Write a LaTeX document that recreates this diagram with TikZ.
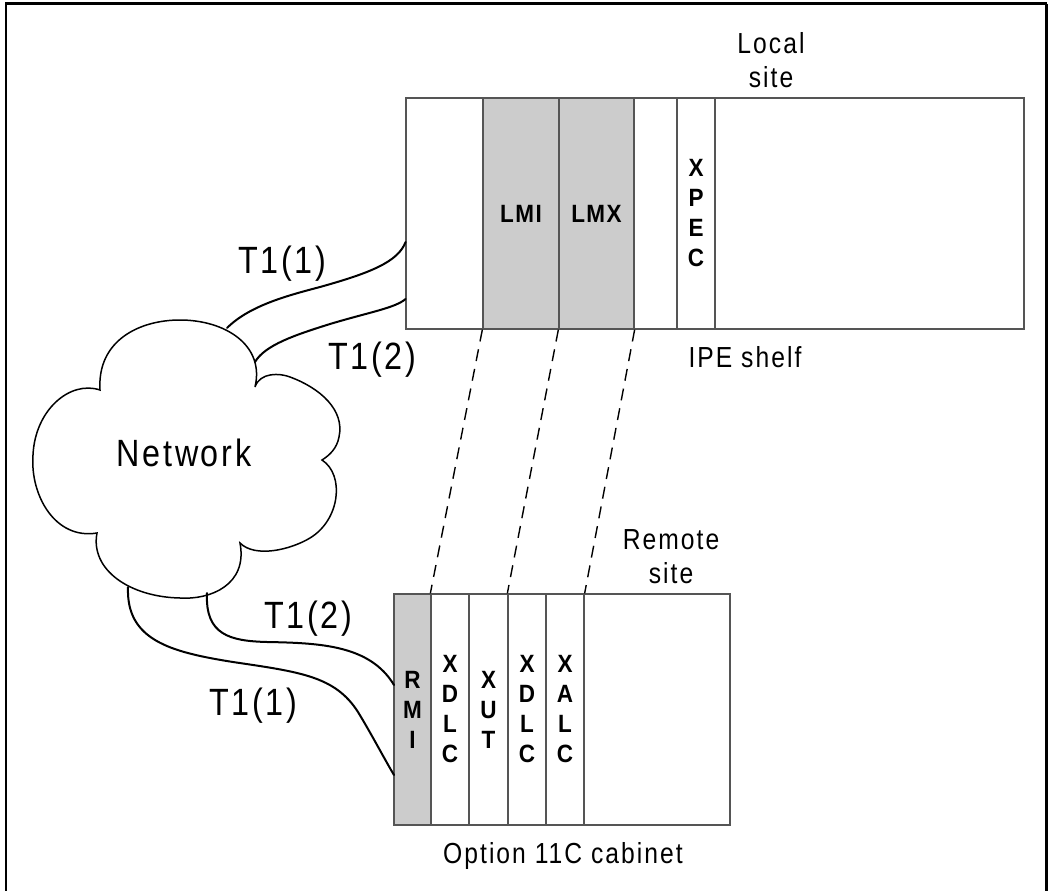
\documentclass[tikz,border=0pt]{standalone}
\usepackage{fontspec}
\setmainfont{Liberation Sans}
\newfontfamily\lab{Liberation Sans}[FakeStretch=0.85,LetterSpace=7]
\newfontfamily\labbold{Liberation Sans Bold}[FakeStretch=0.9,LetterSpace=6]
\definecolor{cardgray}{HTML}{CCCCCC}
\definecolor{edgegray}{HTML}{555555}
\begin{document}
\begin{tikzpicture}[x=1pt,y=-1pt,
  box/.style={draw=edgegray, line width=1.3pt, inner sep=0pt},
  slot/.style={box, font=\labbold\fontsize{25}{30}\selectfont, align=center, minimum height=231pt},
  graycard/.style={slot, fill=cardgray},
  cable/.style={line width=2pt, line cap=round},
  lbl/.style={font=\lab\fontsize{38}{40}\selectfont, inner sep=0pt},
  small/.style={font=\lab\fontsize{29}{34}\selectfont, align=center, inner sep=0pt},
  link/.style={dash pattern=on 12pt off 8pt, line width=1.4pt},
  cloudline/.style={line width=1.5pt}
]
\useasboundingbox (0,0) rectangle (1050,891);
% frame
\draw[line width=1.5pt] (6,891) -- (6,4);
\draw[line width=3pt] (5,4) -- (1047,4);
\draw[line width=3pt] (1046,4) -- (1046,891);

% local shelf
\node[box, minimum width=618pt, minimum height=231pt] (shelf) at (715,213.5) {};
\node[graycard, minimum width=76pt] (lmi) at (521,213.5) {LMI};
\node[graycard, minimum width=75pt] (lmx) at (596.5,213.5) {LMX};
\node[slot, minimum width=38pt] (xpec) at (696,213.5) {X\\P\\E\\C};
\node[small] (local) at (771,60) {Local\\site};
\node[small] (ipe) at (745,357) {IPE shelf};

% remote cabinet
\node[box, minimum width=336pt, minimum height=231pt] (cab) at (562,709.5) {};
\node[graycard, minimum width=37pt] (rmi) at (412.5,709.5) {R\\M\\I};
\node[slot, minimum width=38pt] (xdlca) at (450,709.5) {X\\D\\L\\C};
\node[slot, minimum width=39pt] (xut) at (488.5,709.5) {X\\U\\T};
\node[slot, minimum width=38pt] (xdlcb) at (527,709.5) {X\\D\\L\\C};
\node[slot, minimum width=38pt] (xalc) at (565,709.5) {X\\A\\L\\C};
\node[small] (remote) at (671,557) {Remote\\site};
\node[small] (option) at (563,856) {Option 11C cabinet};

% cloud
\draw[cloudline, fill=white]
  (100,390) .. controls (97,340) and (140,320) .. (180,320)
  .. controls (225,320) and (265,345) .. (255,387)
  .. controls (260,372) and (280,373) .. (290,377)
  .. controls (320,388) and (345,410) .. (339,437)
  .. controls (337,448) and (330,455) .. (322,460)
  .. controls (345,475) and (340,520) .. (310,538)
  .. controls (290,550) and (255,558) .. (240,543)
  .. controls (248,585) and (210,600) .. (180,598)
  .. controls (130,597) and (90,570) .. (97,533)
  .. controls (55,540) and (30,495) .. (33,455)
  .. controls (35,410) and (70,380) .. (100,390) -- cycle;
\node[lbl] (net) at (184,453) {Network};

% cable end points
\coordinate (cA) at (227,328);
\coordinate (cB) at (255,362);
\coordinate (cC) at (128,587);
\coordinate (cD) at (207,593);
\coordinate (sA) at (405.6,242);
\coordinate (sB) at (405.6,299);
\coordinate (rA) at (394,775);
\coordinate (rB) at (394,685);

% cables
\draw[cable] (cA) .. controls (250,305) and (290,295) .. (320,287)
  .. controls (370,273) and (398,262) .. (sA);
\draw[cable] (cB) .. controls (265,345) and (295,335) .. (330,324)
  .. controls (370,312) and (395,308) .. (sB);
\draw[cable] (cC) .. controls (126,640) and (170,652) .. (233,662)
  .. controls (300,672) and (335,676) .. (358,712)
  .. controls (372,735) and (385,760) .. (rA);
\draw[cable] (cD) .. controls (205,635) and (230,641) .. (267,642)
  .. controls (320,643) and (370,645) .. (rB);

\node[lbl] (t1a) at (282,264) {T1(1)};
\node[lbl] (t1b) at (372,360) {T1(2)};
\node[lbl] (t1c) at (308,619) {T1(2)};
\node[lbl] (t1d) at (253,706) {T1(1)};

% dashed links
\draw[link] (lmi.south west) -- (xdlca.north west);
\draw[link] (lmx.south west) -- (xdlcb.north west);
\draw[link] (lmx.south east) -- (xalc.north east);
\end{tikzpicture}
\end{document}
